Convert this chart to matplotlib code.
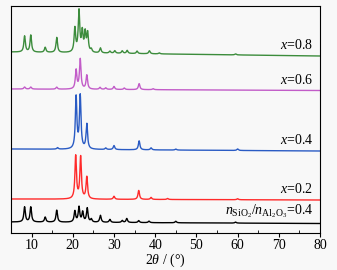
import numpy as np
import matplotlib.pyplot as plt

plt.rcParams['font.family'] = ['Liberation Serif', 'DejaVu Serif']
plt.rcParams['mathtext.fontset'] = 'custom'
plt.rcParams['mathtext.rm'] = 'Liberation Serif'
plt.rcParams['mathtext.it'] = 'Liberation Serif:italic'

# peak positions (2theta) and heights for each pattern
green_pos = [8.3, 9.8, 13.3, 16.1, 20.5, 21.5, 22.3, 23.0, 23.6, 24.5, 26.7, 29.0, 30.2, 32.0, 33.2, 35.6, 38.6, 41.0, 59.5]
green_h = [16, 17, 5, 15, 24, 41, 20, 19, 19, 3, 5, 2, 2.5, 2.5, 3, 2.5, 3, 1, 1]
purple_pos = [8.3, 9.8, 16.1, 20.8, 21.8, 23.4, 26.6, 28.0, 30.0, 32.5, 36.1, 39.5]
purple_h = [2, 2, 2, 19, 30, 14, 2, 1.5, 3, 1.5, 6, 1]
blue_pos = [16.3, 20.8, 21.8, 23.4, 28.0, 30.0, 36.1, 39.0, 45.0, 60.0]
blue_h = [1.5, 52, 53, 25, 1.5, 4, 9, 2, 1, 1.5]
red_pos = [20.7, 21.9, 23.4, 30.0, 36.0, 39.0, 43.0, 60.0]
red_h = [43, 42, 22, 3, 9, 2, 1, 1]
black_pos = [8.3, 9.8, 13.3, 16.1, 20.5, 21.5, 22.4, 23.5, 24.5, 26.7, 29.0, 32.0, 33.1, 36.0, 38.5, 45.0, 59.5]
black_h = [15, 15, 5, 12, 11, 15, 10, 14, 3, 7, 3, 2, 4, 2, 1.5, 1.5, 1]

# baseline level at 5 and 80 degrees for each pattern
green_base = [181, 177]
purple_base = [144, 142.5]
blue_base = [84, 82]
red_base = [34, 33]
black_base = [11, 9.5]

labels = ['$n_{\\mathrm{SiO_2}}/n_{\\mathrm{Al_2O_3}}$=0.4', '$x$=0.2', '$x$=0.4', '$x$=0.6', '$x$=0.8']
colors = ['black', '#ff2a2a', '#2a5bc4', '#c25cc8', '#3c8c3c']

series = [
    (black_pos, black_h, black_base),
    (red_pos, red_h, red_base),
    (blue_pos, blue_h, blue_base),
    (purple_pos, purple_h, purple_base),
    (green_pos, green_h, green_base),
]

tt = np.linspace(5, 80, 1500)

fig = plt.figure(figsize=(3.37, 2.70), dpi=100, facecolor='#f8f8f8')
ax = fig.add_axes([11 / 337, 1 - 233 / 270, 309 / 337, 227 / 270])
ax.set_facecolor('#f8f8f8')

for (pos, h, base), col, lab in zip(series, colors, labels):
    y = np.interp(tt, [5, 80], base)
    for p, hh in zip(pos, h):
        y = y + hh / (1 + ((tt - p) / 0.22) ** 2)
    ax.plot(tt, y, color=col, lw=1.0)
    ax.text(78.3, base[1] + 4, lab, ha='right', va='bottom', fontsize=10)

ax.set_xlim(5, 80)
ax.set_ylim(0, 227)
ax.set_yticks([])
ax.set_xticks(np.arange(10, 81, 10))
ax.set_xticks(np.arange(5, 81, 10), minor=True)
ax.tick_params(axis='x', which='major', direction='out', length=3, labelsize=10, pad=1)
ax.tick_params(axis='x', which='minor', direction='in', length=2)
for s in ax.spines.values():
    s.set_linewidth(0.8)
ax.set_xlabel('2$\\theta$ / (°)', fontsize=10, labelpad=0)

fig.savefig('out.png', dpi=100, facecolor=fig.get_facecolor())
